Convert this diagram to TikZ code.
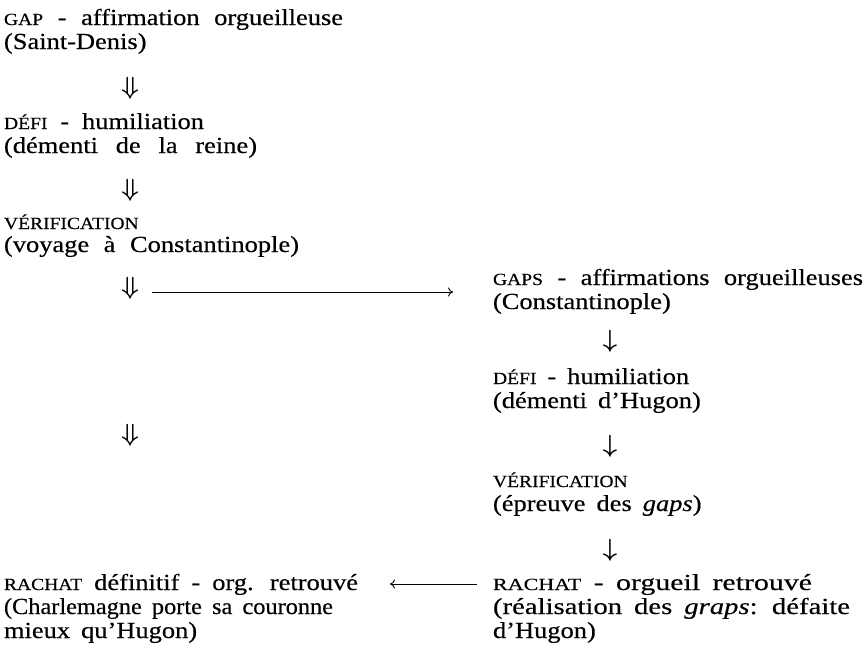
\documentclass[tikz,border=0pt]{standalone}
\usepackage{fontspec}
\usepackage{graphicx}
\setmainfont[FakeStretch=1.15,FakeBold=0.4]{Liberation Serif}
\usetikzlibrary{arrows.meta}
\newcommand\scx[1]{{\fontsize{17}{17}\selectfont #1}}
\newcommand\txtfont{\fontsize{23}{24}\selectfont\spaceskip=11pt plus 40pt minus 5pt\relax}
\newcommand\fillw[2]{\makebox[#1][s]{#2}}
\newcommand\fitw[2]{\resizebox{#1}{\height}{#2}}
\begin{document}
\begin{tikzpicture}[x=1pt,y=-1pt,
  txt/.style={inner sep=0pt, outer sep=0pt, anchor=base west, font=\txtfont},
  dbl/.style={inner sep=0pt, outer sep=0pt, anchor=center, font=\txtfont\boldmath},
  arr/.style={draw, line width=0.9pt, -{To[length=5pt,width=9pt]}}]
\fill[white] (0,0) rectangle (865,653);
\useasboundingbox (0,0) rectangle (865,653);
% left column
\node[txt] (gapL) at (4,25) {\fillw{339pt}{\scx{GAP} - affirmation orgueilleuse}};
\node[txt] (gapLb) at (4,49) {(Saint-Denis)};
\node[dbl] (dA) at (130,88) {$\Downarrow$};
\node[txt] (defiL) at (4,129) {\fillw{200pt}{\scx{DÉFI} - humiliation}};
\node[txt] (defiLb) at (4,153) {\fillw{253pt}{(démenti de la reine)}};
\node[dbl] (dB) at (130,190) {$\Downarrow$};
\node[txt] (verL) at (4,229) {\scx{VÉRIFICATION}};
\node[txt] (verLb) at (4,252) {\fillw{295pt}{(voyage à Constantinople)}};
\node[dbl] (dC) at (130,288) {$\Downarrow$};
\node[dbl] (dD) at (130,435) {$\Downarrow$};
\node[txt] (rachL) at (4,590) {\fillw{354pt}{\scx{RACHAT} définitif - org. retrouvé}};
\node[txt] (rachLb) at (4,614) {\fitw{329pt}{(Charlemagne porte sa couronne}};
\node[txt] (rachLc) at (4,638) {mieux qu’Hugon)};
% right column
\node[txt] (gapR) at (493,285) {\fillw{370pt}{\scx{GAPS} - affirmations orgueilleuses}};
\node[txt] (gapRb) at (493,309) {(Constantinople)};
\node[dbl] (dE) at (610,341) {$\downarrow$};
\node[txt] (defiR) at (493,384) {\scx{DÉFI} - humiliation};
\node[txt] (defiRb) at (493,408) {(démenti d’Hugon)};
\node[dbl] (dF) at (610,446) {$\downarrow$};
\node[txt] (verR) at (493,487) {\scx{VÉRIFICATION}};
\node[txt] (verRb) at (493,511) {(épreuve des \textit{gaps})};
\node[dbl] (dG) at (610,550) {$\downarrow$};
\node[txt] (rachR) at (493,590) {\fitw{319pt}{\scx{RACHAT} - orgueil retrouvé}};
\node[txt] (rachRb) at (493,614) {\fitw{357pt}{(réalisation des \textit{graps}: défaite}};
\node[txt] (rachRc) at (493,638) {d’Hugon)};
% horizontal connectors
\coordinate (hAs) at (152,292);
\coordinate (hAe) at (453,292);
\draw[arr] (hAs) -- (hAe);
\coordinate (hBs) at (477,584);
\coordinate (hBe) at (390,584);
\draw[arr] (hBs) -- (hBe);
\end{tikzpicture}
\end{document}
